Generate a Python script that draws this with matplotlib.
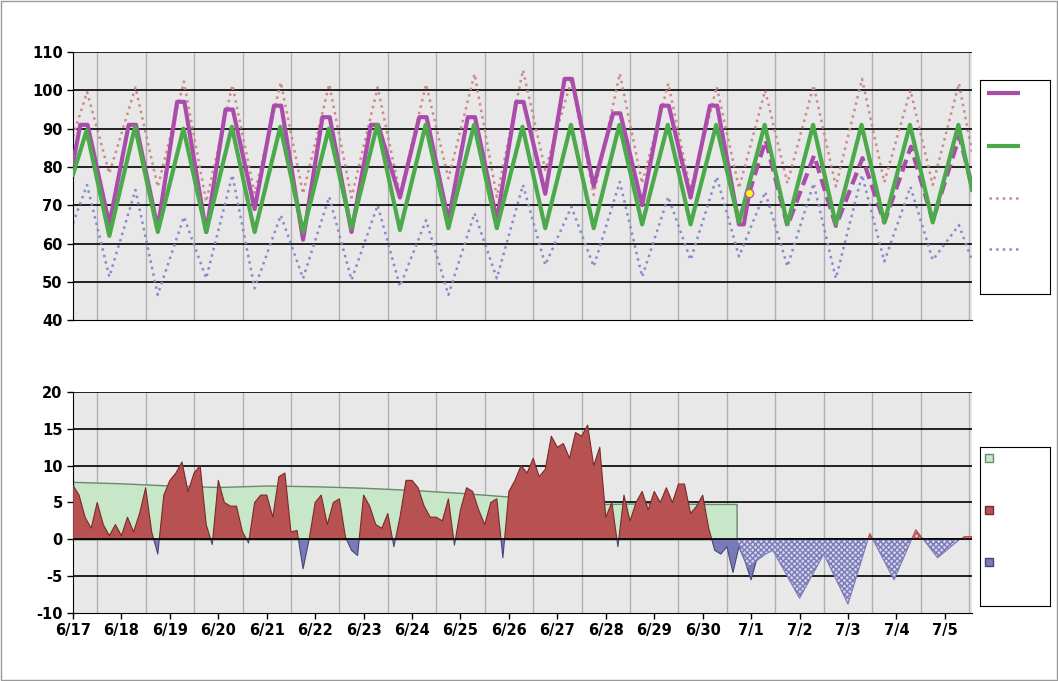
import numpy as np
import matplotlib
matplotlib.use("Agg")
import matplotlib.pyplot as plt
from matplotlib.patches import Rectangle

plt.rcParams["axes.unicode_minus"] = False

days = ["6/17","6/18","6/19","6/20","6/21","6/22","6/23","6/24","6/25","6/26",
        "6/27","6/28","6/29","6/30","7/1","7/2","7/3","7/4","7/5"]

obs_peak = [91,91,97,95,96,93,91,93,93,97,103,94,96,96]
obs_trough = [65,64,63,69,61,63,72,66,66,73,75,70,72,65]
obs_start, obs_now = 81, 73.2
fc_peak = [87,83,82.3,85.3,88]
fc_trough = [64.6,64.6,65.5,66]
fc_end = 75
norm_peak = [89.5,90.5,90,90.5,90.5,90,91,91,91,90.5,91,91,91,91,91,91,91,91,91]
norm_trough = [62,63,63,63,63,64,63.5,64,64,64,64,65,65,65.5,65,65,65.5,65.5]
norm_start, norm_end = 78, 74
rh_peak = [99.6,100.8,102.3,101.4,102.1,101.6,100.8,101.6,104.3,105.3,102.7,104.4,101.8,101,100,101.3,103,100,101.8]
rh_trough = [78.3,74.8,70.9,73.1,73,72,73,77,72.2,79.2,72.7,75.7,74,74.4,75.7,74.9,76,75.3]
rh_start, rh_end = 88, 84
rl_peak = [75.3,74,67,77.9,67.4,72.2,70,66.1,67.9,75.3,69.6,76.1,72.2,77.4,73.5,75.7,77.9,74.8,64.8]
rl_trough = [51.3,46.6,50.9,48.3,50.9,50.5,48.8,46.6,50.9,54.4,54,51.3,55.7,56.6,54,50.9,55.3,55.7]
rl_start, rl_end = 65.3, 55.7

# departure, 3-hourly from 6/17 00h
dep_obs = [7.3,6,3,1.5,5,2,0.5,2,
           0.5,3,1,3.5,7,1,-2,6,
           8,9,10.5,6.5,9,10,2,-0.7,
           8,5,4.5,4.5,1,-0.5,5,6,
           6,3,8.5,9,1,1.2,-4,0,
           5,6,2,5,5.5,0.3,-1.5,-2.2,
           6,4.5,2,1.5,3.5,-1,3,8,
           8,7,4.5,3,3,2.5,5.5,-0.8,
           4,7,6.5,4,2,5,5.5,-2.5,
           6.5,8,10,9,11,8.5,9.5,14,
           12.5,13,11,14.5,14,15.5,10,12.5,
           3,5,-1,6,2.5,5,6.5,4,
           6.5,5,7,5,7.5,7.5,3.5,4.5,
           6,1.5,-1.5,-2,-1,-4.5,-1,-3,-5.5,-2.5]
dep_fc_t = [13.7,13.93,14.3,14.45,15.0,15.5,16.0,16.45,16.95,17.4,17.85,18.4,18.56]
dep_fc_v = [0,-3.8,-2,-1.5,-8,-2,-8.8,0.8,-5.5,1.3,-2.5,0.5,0.5]
cum_t = [0,1,2,3,4,5,6,7,8,9,10,11,12,13,13.7]
cum_v = [7.8,7.6,7.3,7.1,7.3,7.2,7.0,6.7,6.3,5.8,5.0,4.8,4.9,4.8,4.8]

def zig(start, peaks, troughs, end, tp, tt, xend):
    t, v = [0], [start]
    for i in range(len(peaks)):
        t.append(i + tp); v.append(peaks[i])
        if i < len(troughs):
            t.append(i + tt); v.append(troughs[i])
    t.append(xend); v.append(end)
    return t, v

XMAX = 18.56
fig = plt.figure(figsize=(10.58, 6.81), dpi=100)
fig.patches.append(Rectangle((0.001, 0.001), 0.998, 0.998, transform=fig.transFigure,
                             fill=False, edgecolor="#999999", lw=1))
ax1 = fig.add_axes([0.069, 0.530, 0.8497, 0.3935])
ax2 = fig.add_axes([0.069, 0.0999, 0.8497, 0.3245])
for ax in (ax1, ax2):
    ax.set_facecolor("#e8e8e8")
    ax.set_xlim(0, XMAX)
    for d in range(19):
        ax.axvline(d + 0.5, color="#b0b0b0", lw=1, zorder=0)
    for s in ax.spines.values():
        s.set_visible(False)
    ax.spines["left"].set_visible(True)
    ax.spines["bottom"].set_visible(True)
    ax.tick_params(labelsize=10.5, length=4, width=1)

ax1.set_ylim(40, 110)
ax1.set_yticks(range(40, 111, 10))
for y in range(50, 111, 10):
    ax1.axhline(y, color="black", lw=1.2, zorder=1)
ax1.set_xticks([])
t, v = zig(rh_start, rh_peak, rh_trough, rh_end, 0.29, 0.75, XMAX)
ax1.plot(t, v, ls=":", color="#cc8a8a", lw=1.8, zorder=2)
t, v = zig(rl_start, rl_peak, rl_trough, rl_end, 0.29, 0.75, XMAX)
ax1.plot(t, v, ls=":", color="#8a8acc", lw=1.8, zorder=2)
t, v = zig(norm_start, norm_peak, norm_trough, norm_end, 0.28, 0.75, XMAX)
ax1.plot(t, v, color="#4caa4c", lw=3, zorder=4)
t = [0]; v = [obs_start]
for i in range(len(obs_peak)):
    t += [i + 0.15, i + 0.3, i + 0.75]; v += [obs_peak[i], obs_peak[i], obs_trough[i]]
t += [13.85, 13.96]; v += [obs_trough[-1], obs_now]
ax1.plot(t, v, color="#aa4daa", lw=3, zorder=3)
ft = [13.96]; fv = [obs_now]
for i in range(len(fc_peak)):
    ft.append(14 + i + 0.3); fv.append(fc_peak[i])
    if i < len(fc_trough):
        ft.append(14 + i + 0.75); fv.append(fc_trough[i])
ft.append(XMAX); fv.append(fc_end)
ax1.plot(ft, fv, color="#aa4daa", lw=3, ls=(0, (3, 1.5)), zorder=3)
ax1.plot([13.96], [obs_now], "o", color="yellow", mec="#cc44cc", ms=6, zorder=6)
for lab in ax1.get_yticklabels():
    lab.set_fontweight("bold")

ax2.set_ylim(-10, 20)
ax2.set_yticks(range(-10, 21, 5))
ax2.set_xticks(range(19))
ax2.set_xticklabels(days, fontweight="bold")
for lab in ax2.get_yticklabels():
    lab.set_fontweight("bold")
for y in range(-5, 21, 5):
    ax2.axhline(y, color="black", lw=1.2, zorder=1)
ax2.fill_between(cum_t, 0, cum_v, color="#c8e6c8", edgecolor="#6a8a6a", lw=1, zorder=2)
dt = np.arange(len(dep_obs)) * 0.125
dv = np.array(dep_obs)
ax2.fill_between(dt, 0, dv, where=dv >= 0, interpolate=True, color="#b85252",
                 edgecolor="#7a2a2a", lw=0.8, zorder=3)
ax2.fill_between(dt, 0, dv, where=dv <= 0, interpolate=True, color="#7a7ab8",
                 edgecolor="#45457a", lw=0.8, zorder=3)
fv2 = np.array(dep_fc_v)
ax2.fill_between(dep_fc_t, 0, fv2, where=fv2 <= 0, interpolate=True, facecolor="#d4d4ea",
                 edgecolor="#7a7ab8", hatch="xxxxxx", lw=0.8, zorder=3)
ax2.fill_between(dep_fc_t, 0, fv2, where=fv2 >= 0, interpolate=True, facecolor="#f0d0d0",
                 edgecolor="#b85252", hatch="xxxxxx", lw=0.8, zorder=3)
ax2.axhline(0, color="black", lw=1.2, zorder=4)

# empty legend boxes
lg1 = fig.add_axes([980/1058, 1-294/681, 70/1058, 214/681])
lg1.set_xlim(0, 70); lg1.set_ylim(294, 80)
lg1.set_xticks([]); lg1.set_yticks([])
for yy, c, ls in [(93, "#aa4daa", "-"), (146, "#4caa4c", "-"), (198, "#cc8a8a", ":"), (249, "#8a8acc", ":")]:
    lg1.plot([9, 38], [yy, yy], color=c, lw=3 if ls == "-" else 1.8, ls=ls)
lg2 = fig.add_axes([980/1058, 1-606/681, 70/1058, 159/681])
lg2.set_xlim(0, 70); lg2.set_ylim(606, 447)
lg2.set_xticks([]); lg2.set_yticks([])
for yy, c, e in [(458, "#c8e6c8", "#6a8a6a"), (510, "#b85252", "#7a2a2a"), (562, "#7a7ab8", "#45457a")]:
    lg2.add_patch(Rectangle((5, yy - 4), 8, 8, facecolor=c, edgecolor=e, lw=1))

fig.savefig("out.png", dpi=100)
